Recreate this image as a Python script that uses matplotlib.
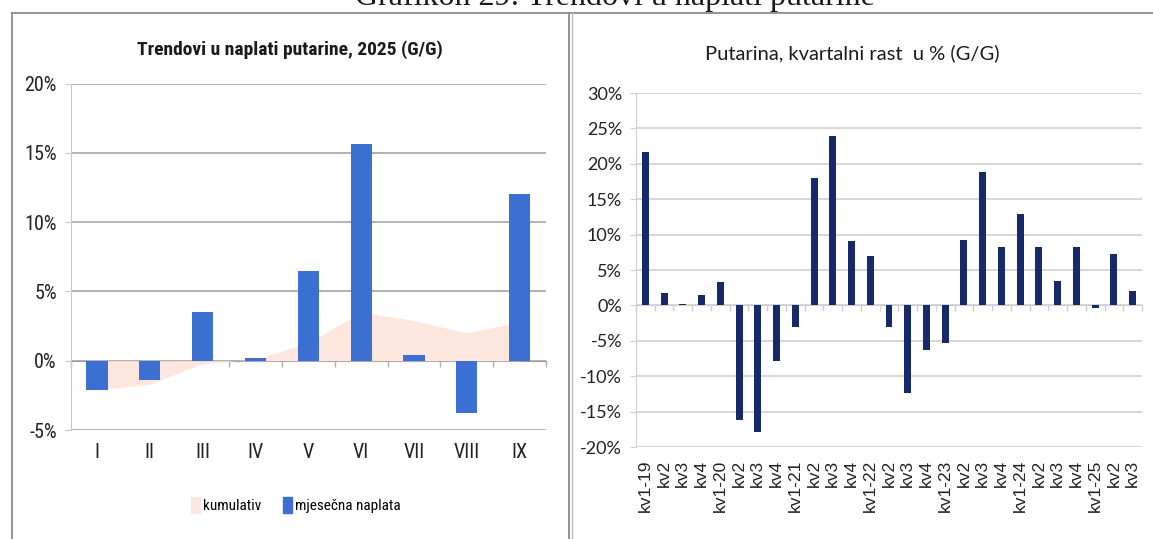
import numpy as np
import matplotlib
matplotlib.use("Agg")
import matplotlib.pyplot as plt
from matplotlib import font_manager as fm
from matplotlib.patches import Patch
from matplotlib.lines import Line2D
from matplotlib.ticker import FuncFormatter, MultipleLocator

# ---------------- data ----------------
months = ["I", "II", "III", "IV", "V", "VI", "VII", "VIII", "IX"]
monthly = [-2.1, -1.4, 3.5, 0.2, 6.5, 15.6, 0.4, -3.8, 12.0]
cumulative = [-2.1, -1.7, -0.2, 0.1, 1.3, 3.5, 2.9, 2.0, 2.8]

quarters = ["kv1-19", "kv2", "kv3", "kv4",
            "kv1-20", "kv2", "kv3", "kv4",
            "kv1-21", "kv2", "kv3", "kv4",
            "kv1-22", "kv2", "kv3", "kv4",
            "kv1-23", "kv2", "kv3", "kv4",
            "kv1-24", "kv2", "kv3", "kv4",
            "kv1-25", "kv2", "kv3"]
quarterly = [21.7, 1.8, 0.2, 1.5,
             3.3, -16.2, -17.9, -7.8,
             -3.1, 18.0, 23.9, 9.1,
             7.0, -3.1, -12.4, -6.3,
             -5.3, 9.3, 18.9, 8.3,
             12.9, 8.2, 3.5, 8.2,
             -0.4, 7.3, 2.1]

page_title = "Grafikon 29: Trendovi u naplati putarine"
left_title = "Trendovi u naplati putarine, 2025 (G/G)"
right_title = "Putarina, kvartalni rast  u % (G/G)"
legend_labels = ["kumulativ", "mjesečna naplata"]

# ---------------- fonts ----------------
installed = {(f.name, str(f.stretch)) for f in fm.fontManager.ttflist}
names = {n for n, _ in installed}
narrow_family = None
narrow_stretch = "normal"
for cand in ["Liberation Sans Narrow", "Roboto Condensed", "Open Sans Condensed",
             "DejaVu Sans Condensed", "Noto Sans Condensed"]:
    if cand in names:
        narrow_family = cand
        break
if narrow_family is None:
    for n, st in installed:
        if n == "DejaVu Sans" and st in ("condensed", "semi-condensed", "500", "600"):
            narrow_family = "DejaVu Sans"
            narrow_stretch = "condensed"
            break
if narrow_family is None:
    narrow_family = "Roboto"
NARROW = [narrow_family, "DejaVu Sans"]
CAL = ["Lato", "DejaVu Sans"]

# ---------------- style ----------------
W, H = 1153, 539
BLUE = "#3b6fd1"
NAVY = "#16296a"
PINK = "#fde6de"

fig = plt.figure(figsize=(W / 100, H / 100), dpi=100)

def fx(px):
    return px / W

def fy(py):
    return 1 - py / H

pct = FuncFormatter(lambda v, p: f"{v:.0f}%")

# page frame
frame_kw = dict(color="#8a8a8a", lw=1.3, transform=fig.transFigure)
fig.add_artist(Line2D([fx(12), fx(1153)], [fy(13), fy(13)], **frame_kw))
fig.add_artist(Line2D([fx(12), fx(12)], [fy(13), fy(539)], **frame_kw))
fig.add_artist(Line2D([fx(569), fx(569)], [fy(13), fy(539)], **frame_kw))
fig.add_artist(Line2D([fx(572), fx(572)], [fy(13), fy(539)], color="#bbbbbb", lw=1.0,
                      transform=fig.transFigure))
fig.text(fx(615), fy(5), page_title, ha="center", va="baseline",
         family=["Liberation Serif", "DejaVu Serif"], fontsize=23, color="#1a1a1a")

# ---------------- left chart ----------------
axL = fig.add_axes([fx(70.6), fy(430), fx(546 - 70.6), (430 - 83.5) / H])
xL = np.arange(len(months))
axL.fill_between(xL, 0, cumulative, color=PINK, lw=0, zorder=1)
axL.bar(xL, monthly, width=0.4, color=BLUE, zorder=3)
axL.set_xlim(-0.5, len(months) - 0.5)
axL.set_ylim(-5, 20)
axL.yaxis.set_major_locator(MultipleLocator(5))
axL.yaxis.set_major_formatter(pct)
axL.grid(axis="y", color="#9c9c9c", lw=1.1, zorder=0)
axL.set_axisbelow(True)
for s in ["top", "right", "bottom"]:
    axL.spines[s].set_visible(False)
axL.spines["left"].set_color("#c8c8c8")
axL.tick_params(axis="y", length=4, color="#c8c8c8", pad=6, labelsize=14.5, labelcolor="#222222")
axL.tick_params(axis="x", length=0, pad=9, labelsize=14.5, labelcolor="#222222")
axL.set_xticks(xL)
axL.set_xticklabels(months)
for t in axL.get_xticklabels() + axL.get_yticklabels():
    t.set_family(NARROW)
    t.set_stretch(narrow_stretch)
zpos = (0 - axL.get_ylim()[0]) / (axL.get_ylim()[1] - axL.get_ylim()[0])
secL = axL.secondary_xaxis(zpos)
secL.set_xticks(np.arange(len(months) + 1) - 0.5)
secL.set_xticklabels([])
secL.tick_params(length=4, color="#b0b0b0", width=1)
secL.spines["bottom"].set_color("#9c9c9c")
fig.text(fx(290), fy(50), left_title, ha="center", va="center", family=NARROW,
         stretch=narrow_stretch, fontweight="bold", fontsize=14, color="#1a1a1a")
leg = axL.legend(handles=[Patch(color=PINK), Patch(color=BLUE)], labels=legend_labels,
                 loc="center", bbox_to_anchor=(fx(296), fy(505)),
                 bbox_transform=fig.transFigure, ncol=2, frameon=False,
                 handlelength=0.6, handleheight=1.3, handletextpad=0.2,
                 columnspacing=1.4,
                 prop=fm.FontProperties(family=NARROW, stretch=narrow_stretch, size=11))

# ---------------- right chart ----------------
axR = fig.add_axes([fx(636), fy(447), fx(1142 - 636), (447 - 93) / H])
xR = np.arange(len(quarters))
axR.bar(xR, quarterly, width=0.37, color=NAVY, zorder=3)
axR.set_xlim(-0.5, len(quarters) - 0.5)
axR.set_ylim(-20, 30)
axR.yaxis.set_major_locator(MultipleLocator(5))
axR.yaxis.set_major_formatter(pct)
axR.grid(axis="y", color="#cfcfcf", lw=1.2, zorder=0)
axR.set_axisbelow(True)
for s in ["top", "right", "bottom"]:
    axR.spines[s].set_visible(False)
axR.spines["left"].set_color("#cfcfcf")
axR.tick_params(axis="y", length=4, color="#cfcfcf", pad=6, labelsize=13, labelcolor="#222222")
axR.set_xticks(xR)
axR.set_xticklabels(quarters, rotation=90, family=["Liberation Sans", "DejaVu Sans"],
                    fontsize=12.5, color="#222222")
axR.tick_params(axis="x", length=0, pad=9)
for t in axR.get_yticklabels():
    t.set_family(CAL)
zposR = (0 - axR.get_ylim()[0]) / (axR.get_ylim()[1] - axR.get_ylim()[0])
secR = axR.secondary_xaxis(zposR)
secR.set_xticks(np.arange(len(quarters) + 1) - 0.5)
secR.set_xticklabels([])
secR.tick_params(length=4, color="#cfcfcf", width=1)
secR.spines["bottom"].set_color("#cfcfcf")
fig.text(fx(852), fy(53), right_title, ha="center", va="center", family=CAL,
         fontsize=14.5, color="#1a1a1a")

fig.savefig("out.png", dpi=100)
